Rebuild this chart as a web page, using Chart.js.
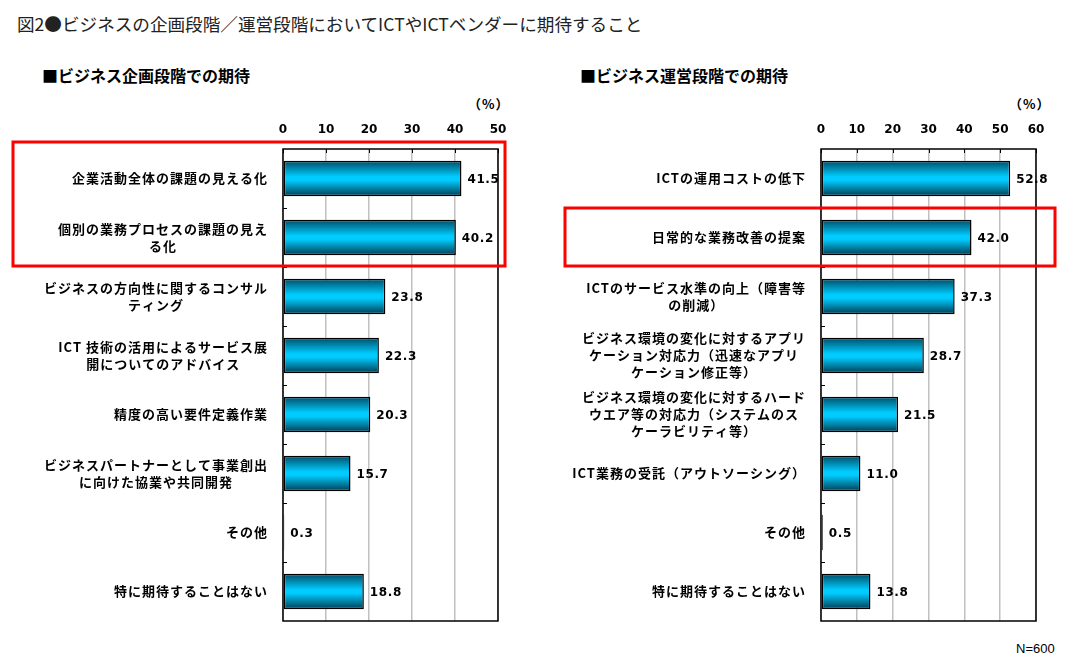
<!DOCTYPE html>
<html>
<head>
<meta charset="utf-8">
<script src="https://cdn.jsdelivr.net/npm/chart.js@4"></script>
<style>
  body { margin: 0; background: #fff; width: 1069px; height: 667px; position: relative; overflow: hidden;
         font-family: "Noto Sans CJK JP", sans-serif; color: #000; }
  .t { position: absolute; white-space: nowrap; }
  #title { left: 17px; top: 11px; font-size: 17.6px; color: #222; }
  .sub { top: 63px; font-size: 16px; font-weight: bold; }
  .pct { top: 94px; font-size: 13px; font-weight: bold; letter-spacing: 1px; }
  canvas { position: absolute; top: 0; }
</style>
</head>
<body>
<div class="t" id="title">図2●ビジネスの企画段階／運営段階においてICTやICTベンダーに期待すること</div>
<div class="t sub" style="left:42px">■ビジネス企画段階での期待</div>
<div class="t sub" style="left:580px">■ビジネス運営段階での期待</div>
<div class="t pct" style="left:468px">（%）</div>
<div class="t pct" style="left:1009px">（%）</div>
<div class="t" style="left:1016px;top:641px;font-size:13px;font-family:'Liberation Sans'">N=600</div>
<canvas id="left" width="535" height="667" style="left:0"></canvas>
<canvas id="right" width="534" height="667" style="left:535px"></canvas>
<script>
// 企画段階
let leftLabels = [
    ['企業活動全体の課題の見える化'],
    ['個別の業務プロセスの課題の見え', 'る化'],
    ['ビジネスの方向性に関するコンサル', 'ティング'],
    ['ICT 技術の活用によるサービス展', '開についてのアドバイス'],
    ['精度の高い要件定義作業'],
    ['ビジネスパートナーとして事業創出', 'に向けた協業や共同開発'],
    ['その他'],
    ['特に期待することはない']
];
let leftValues = [41.5, 40.2, 23.8, 22.3, 20.3, 15.7, 0.3, 18.8];

// 運営段階
let rightLabels = [
    ['ICTの運用コストの低下'],
    ['日常的な業務改善の提案'],
    ['ICTのサービス水準の向上（障害等', 'の削減）'],
    ['ビジネス環境の変化に対するアプリ', 'ケーション対応力（迅速なアプリ', 'ケーション修正等）'],
    ['ビジネス環境の変化に対するハード', 'ウエア等の対応力（システムのス', 'ケーラビリティ等）'],
    ['ICT業務の受託（アウトソーシング）'],
    ['その他'],
    ['特に期待することはない']
];
let rightValues = [52.8, 42.0, 37.3, 28.7, 21.5, 11.0, 0.5, 13.8];

let leftTicks = [0, 10, 20, 30, 40, 50];
let rightTicks = [0, 10, 20, 30, 40, 50, 60];

function barFill(c) {
    let ch = c.chart;
    if (!ch.chartArea) return '#00ccff';
    let y = ch.scales.y;
    let cy = y.getPixelForValue(c.dataIndex);
    let h = (y.getPixelForValue(1) - y.getPixelForValue(0)) * 0.6 / 2;
    let g = ch.ctx.createLinearGradient(0, cy - h, 0, cy + h);
    g.addColorStop(0, '#004c66');
    g.addColorStop(0.45, '#00ccff');
    g.addColorStop(0.55, '#00ccff');
    g.addColorStop(1, '#003c52');
    return g;
}

// frame, category labels, value labels, red box
const decor = {
    id: 'decor',
    afterDraw(chart, args, opts) {
        let ctx = chart.ctx;
        let a = chart.chartArea;
        let x = chart.scales.x, y = chart.scales.y;
        let labels = chart.data.labels;
        let step = y.getPixelForValue(1) - y.getPixelForValue(0);
        ctx.save();
        ctx.strokeStyle = '#000';
        ctx.lineWidth = 1.5;
        ctx.strokeRect(a.left, a.top, a.width, a.height);
        ctx.lineWidth = 1;
        ctx.beginPath();
        for (let i = 1; i < labels.length; i++) {
            let yy = Math.round(y.getPixelForValue(i) - step / 2) + 0.5;
            ctx.moveTo(a.left, yy); ctx.lineTo(a.left + 4, yy);
        }
        x.ticks.forEach((t) => {
            let xx = Math.round(x.getPixelForValue(t.value)) + 0.5;
            ctx.moveTo(xx, a.top); ctx.lineTo(xx, a.top + 4);
        });
        ctx.stroke();

        // category labels: lines centred on each other, block right aligned
        ctx.fillStyle = '#000';
        ctx.font = 'bold 13px "Noto Sans CJK JP"';
        ctx.letterSpacing = '1px';
        ctx.textAlign = 'center';
        ctx.textBaseline = 'middle';
        labels.forEach((lines, i) => {
            let w = Math.max(...lines.map((l) => ctx.measureText(l).width));
            let cx = a.left - 15 - w / 2;
            let cy = y.getPixelForValue(i);
            lines.forEach((l, k) => {
                ctx.fillText(l, cx, cy + (k - (lines.length - 1) / 2) * 17);
            });
        });

        // values
        ctx.font = 'bold 12px "DejaVu Sans"';
        ctx.letterSpacing = '0.6px';
        ctx.textAlign = 'left';
        let meta = chart.getDatasetMeta(0);
        meta.data.forEach((bar, i) => {
            ctx.fillText(chart.data.datasets[0].data[i].toFixed(1), bar.x + 6, bar.y + 1);
        });

        // red box
        let b = opts.box;
        let top = b.from === 0 ? a.top - 7 : y.getPixelForValue(b.from) - step / 2;
        let bottom = y.getPixelForValue(b.to) + step / 2 - 1;
        ctx.strokeStyle = '#ff0000';
        ctx.lineWidth = 3;
        ctx.strokeRect(b.x1, top, b.x2 - b.x1, bottom - top);
        ctx.restore();
    }
};

function makeChart(id, labels, values, ticks, pad, box) {
    let config = {
        type: 'bar',
        data: {
            labels: labels,
            datasets: [{
                data: values,
                backgroundColor: barFill,
                borderColor: '#000',
                borderWidth: 1.5,
                borderSkipped: false,
                barPercentage: 0.6,
                categoryPercentage: 1
            }]
        },
        options: {
            indexAxis: 'y',
            responsive: false,
            animation: false,
            layout: { padding: pad },
            plugins: {
                legend: { display: false },
                tooltip: { enabled: false },
                decor: { box: box }
            },
            scales: {
                x: {
                    position: 'top',
                    min: ticks[0],
                    max: ticks[ticks.length - 1],
                    afterFit: (s) => { s.height = 40; },
                    afterBuildTicks: (s) => { s.ticks = ticks.map((v) => ({ value: v })); },
                    grid: { color: '#c0c0c0', lineWidth: 1.5, drawTicks: false },
                    border: { display: false },
                    ticks: {
                        color: '#000',
                        padding: 12,
                        font: { family: 'DejaVu Sans', size: 12, weight: 'bold' }
                    }
                },
                y: { display: false }
            }
        },
        plugins: [decor]
    };
    let ctx = document.getElementById(id).getContext('2d');
    return new Chart(ctx, config);
}

makeChart('left', leftLabels, leftValues, leftTicks,
    { left: 283, right: 37, top: 109, bottom: 46 },
    { x1: 13, x2: 505, from: 0, to: 1 });
makeChart('right', rightLabels, rightValues, rightTicks,
    { left: 286, right: 33, top: 109, bottom: 46 },
    { x1: 30, x2: 520, from: 1, to: 1 });
</script>
</body>
</html>
